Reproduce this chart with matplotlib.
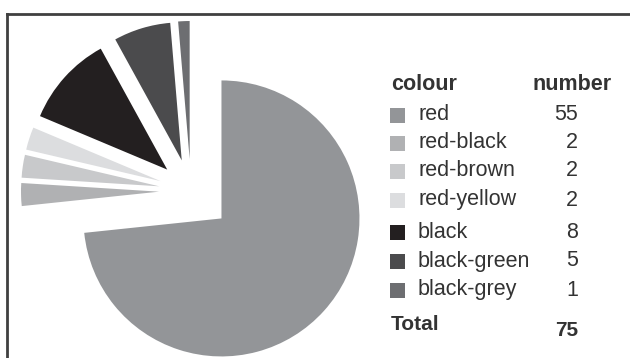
import matplotlib
matplotlib.use('Agg')
import matplotlib.pyplot as plt
from matplotlib.patches import Rectangle

# data
colours = ['red', 'red-black', 'red-brown', 'red-yellow', 'black', 'black-green', 'black-grey']
numbers = [55, 2, 2, 2, 8, 5, 1]
greys = ['#939598', '#b0b1b3', '#c8c9cb', '#dcdddf', '#231f20', '#4b4b4d', '#6d6e71']
total = sum(numbers)

plt.rcParams['font.family'] = ['Liberation Sans', 'DejaVu Sans']

fig = plt.figure(figsize=(6.3, 3.58), dpi=100)
ax = fig.add_axes([0, 0, 1, 1])
ax.set_xlim(0, 630)
ax.set_ylim(358, 0)  # pixel-like coords, y down

# pie is drawn in y-up terms, so mirror: use counterclock=True on a flipped axis
explode = [41] + [32] * (len(numbers) - 1)
ax.pie(numbers, colors=greys, startangle=270, counterclock=True,
       radius=138, center=(191, 191), explode=explode,
       wedgeprops=dict(edgecolor='none'), frame=True)
ax.set_xlim(0, 630)
ax.set_ylim(358, 0)
ax.set_aspect('equal')
ax.axis('off')

# frame (only top and left visible in the crop)
ax.plot([7, 630], [14, 14], color='#404040', lw=2, clip_on=False)
ax.plot([7, 7], [14, 358], color='#404040', lw=2, clip_on=False)

# legend table
tc = '#333333'
fs = 15.5
ax.text(391, 84, 'colour', fontsize=fs, fontweight='bold', color=tc, va='center')
ax.text(612, 84, 'number', fontsize=fs, fontweight='bold', color=tc, va='center', ha='right')
row_y = [115, 143, 171, 200, 232, 261, 290]
for y, name, n, c in zip(row_y, colours, numbers, greys):
    ax.add_patch(Rectangle((390, y - 7.5), 15, 15, facecolor=c, edgecolor='none'))
    ax.text(418, y, name, fontsize=fs, color=tc, va='center')
    ax.text(578, y, str(n), fontsize=fs, color=tc, va='center', ha='right')
ax.text(391, 325, 'Total', fontsize=fs - 0.5, fontweight='bold', color=tc, va='center')
ax.text(578, 330, str(total), fontsize=fs - 0.5, fontweight='bold', color=tc, va='center', ha='right')

fig.savefig('out.png', dpi=100, facecolor='white')
